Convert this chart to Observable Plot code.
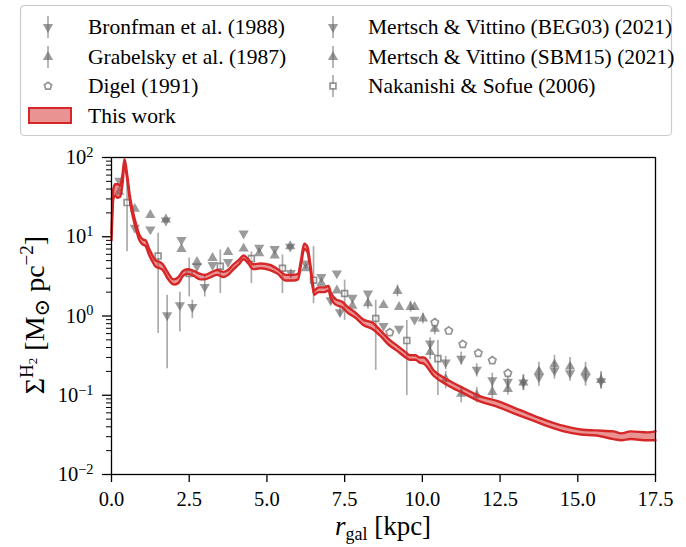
<!DOCTYPE html>
<html>
<head>
<meta charset="utf-8">
<script src="https://cdn.jsdelivr.net/npm/d3@7"></script>
<script src="https://cdn.jsdelivr.net/npm/@observablehq/plot@0.6"></script>
<style>
  body { margin: 0; background: #fff; }
  #wrap { position: relative; width: 686px; height: 547px; font-family: "Liberation Serif", "Times New Roman", "DejaVu Serif", serif; }
  #legend { position: absolute; left: 0; top: 0; }
  #chart { position: absolute; left: 0; top: 140px; }
</style>
</head>
<body>
<div id="wrap"><svg id="legend" width="686" height="140"></svg><div id="chart"></div></div>
<script>
const FONT = "'Liberation Serif', 'Times New Roman', 'DejaVu Serif', serif";

// ---- "This work": H2 surface density band (lower / upper edge) ----
const bandR  = [0.0, 0.03, 0.06, 0.12, 0.2, 0.28, 0.35, 0.42, 0.5, 0.6, 0.7, 0.8, 0.9, 1.0, 1.1, 1.2, 1.3, 1.42, 1.55, 1.65, 1.8, 2.0, 2.15, 2.3, 2.45, 2.65, 2.85, 3.0, 3.2, 3.4, 3.6, 3.75, 3.9, 4.1, 4.25, 4.4, 4.55, 4.8, 5.1, 5.35, 5.6, 5.85, 6.0, 6.1, 6.2, 6.3, 6.4, 6.52, 6.66, 6.85, 6.98, 7.05, 7.2, 7.43, 7.6, 7.85, 8.1, 8.4, 8.65, 8.9, 9.2, 9.46, 9.6, 9.78, 9.9, 10.05, 10.37, 10.8, 11.3, 11.87, 12.4, 12.94, 13.5, 14.0, 14.55, 15.1, 15.6, 16.15, 16.4, 16.7, 17.25, 17.5];
const bandLo = [9, 20, 30, 33, 31, 32, 45, 82, 55, 27, 17, 12, 9, 8, 7.6, 6, 5, 4.2, 4.0, 3.8, 3.0, 2.5, 2.6, 3.2, 3.4, 3.2, 2.9, 2.9, 3.1, 3.3, 3.1, 3.3, 3.8, 4.5, 5.2, 4.6, 3.9, 4.0, 3.8, 3.4, 2.8, 2.8, 2.9, 4.5, 7.0, 6.5, 3.8, 1.85, 2.0, 2.0, 2.1, 1.7, 1.4, 1.28, 1.1, 0.95, 0.77, 0.68, 0.56, 0.44, 0.36, 0.3, 0.28, 0.28, 0.26, 0.25, 0.175, 0.135, 0.107, 0.083, 0.072, 0.059, 0.049, 0.041, 0.035, 0.032, 0.031, 0.028, 0.027, 0.028, 0.027, 0.027];
const bandHi = [11, 28, 40, 46, 46, 44, 60, 95, 62, 31, 20, 14, 10.5, 9.3, 9, 7.2, 6, 5, 4.8, 4.5, 3.6, 2.9, 3.1, 3.7, 3.9, 3.7, 3.4, 3.3, 3.55, 3.8, 3.6, 3.8, 4.4, 5.1, 5.8, 5.2, 4.5, 4.6, 4.4, 3.9, 3.3, 3.3, 3.4, 5.2, 8.2, 7.5, 4.4, 2.1, 2.3, 2.3, 2.4, 2.0, 1.65, 1.5, 1.3, 1.1, 0.9, 0.82, 0.66, 0.52, 0.42, 0.35, 0.32, 0.32, 0.3, 0.3, 0.205, 0.158, 0.124, 0.097, 0.085, 0.07, 0.057, 0.048, 0.041, 0.037, 0.036, 0.035, 0.033, 0.035, 0.034, 0.035];

// ---- Bronfman et al. (1988) ----
const bronR  = [1.79, 2.2, 2.6, 3.0, 5.77, 7.05, 7.35];
const bronV  = [1.02, 1.37, 1.3, 2.33, 3.5, 1.58, 1.12];
const bronLo = [0.216, 0.63, 0.93, 1.74, 3.1, 1.4, 0.98];
const bronHi = [1.83, 2.0, 1.58, 3.27, 3.9, 1.78, 1.28];

// ---- Grabelsky et al. (1987) ----
const grabR  = [9.2, 9.62, 10.02, 10.4];
const grabV  = [2.07, 1.3, 0.93, 0.69];
const grabLo = [1.75, 1.12, 0.8, 0.58];
const grabHi = [2.45, 1.52, 1.08, 0.82];

// ---- Digel (1991) ----
const digelR = [8.95, 10.4, 10.85, 11.3, 11.8, 12.25, 12.75];
const digelV = [0.62, 0.83, 0.65, 0.44, 0.34, 0.275, 0.19];

// ---- Mertsch & Vittino (2021), shared radial grid ----
const mvR = [0.25, 0.75, 1.25, 1.75, 2.25, 2.75, 3.25, 3.75, 4.25, 4.75, 5.25, 5.75, 6.25, 6.75, 7.25, 7.75, 8.25, 8.75, 9.25, 9.75, 10.25, 10.75, 11.25, 11.75, 12.25, 12.75, 13.25, 13.75, 14.25, 14.75, 15.25, 15.75];
const begV  = [51, 13, 12.4, 16, 9.1, 4.25, 4.4, 4.8, 11, 7.3, 7.0, 7.5, 4.6, 3.1, 3.45, 1.7, 1.92, 0.75, 0.69, 0.9, 0.45, 0.26, 0.29, 0.21, 0.155, 0.148, 0.145, 0.17, 0.205, 0.19, 0.17, 0.15];
const begLo = [null, null, null, null, null, null, null, null, null, null, null, null, null, null, null, null, null, null, null, null, 0.38, 0.21, 0.24, 0.17, 0.125, 0.12, 0.115, 0.13, 0.16, 0.15, 0.13, 0.12];
const begHi = [null, null, null, null, null, null, null, null, null, null, null, null, null, null, null, null, null, null, null, null, 0.53, 0.31, 0.35, 0.25, 0.19, 0.18, 0.18, 0.22, 0.26, 0.25, 0.22, 0.19];
const sbmV  = [37, 22.5, 18.8, 16.5, 7.0, 4.8, 5.4, 6.4, 7.1, 6.2, 5.8, 7.6, 4.0, 2.6, 2.1, 1.35, 1.45, 1.37, 1.3, 1.3, 0.35, 0.16, 0.104, 0.1, 0.11, 0.12, 0.145, 0.2, 0.245, 0.23, 0.2, 0.155];
const sbmLo = [null, null, null, null, null, null, null, null, null, null, null, null, null, null, null, null, 1.22, null, null, null, 0.28, 0.12, 0.08, 0.08, 0.09, 0.1, 0.115, 0.155, 0.19, 0.18, 0.155, 0.12];
const sbmHi = [null, null, null, null, null, null, null, null, null, null, null, null, null, null, null, null, 1.7, null, null, null, 0.44, 0.2, 0.13, 0.125, 0.14, 0.15, 0.18, 0.26, 0.32, 0.3, 0.26, 0.2];

// ---- Nakanishi & Sofue (2006) ----
const nakR  = [0.5, 1.5, 2.5, 3.5, 4.5, 5.5, 6.5, 7.5, 8.5, 9.5, 10.5];
const nakV  = [27, 5.7, 3.45, 4.25, 5.3, 4.0, 2.83, 1.92, 0.93, 0.49, 0.29];
const nakLo = [6.45, 0.6, 1.74, 1.92, 2.57, 1.92, 1.43, 0.88, 0.206, 0.099, 0.099];
const nakHi = [49.9, 11.1, 5.4, 6.8, 6.45, 5.9, 7.5, 2.83, 1.58, 0.88, 0.49];

// ---- axes ----
const xTicks = [0, 2.5, 5, 7.5, 10, 12.5, 15, 17.5];
const yMajor = [0.01, 0.1, 1, 10, 100];
const yExp   = ["−2", "−1", "0", "1", "2"];
const yMinor = [0.02, 0.03, 0.04, 0.05, 0.06, 0.07, 0.08, 0.09, 0.2, 0.3, 0.4, 0.5, 0.6, 0.7, 0.8, 0.9, 2, 3, 4, 5, 6, 7, 8, 9, 20, 30, 40, 50, 60, 70, 80, 90];
const expOf = new Map(yMajor.map((d, i) => [d, yExp[i]]));

const RED = "#d62728";
const GREY = "#666666";

// marker shapes not built into d3
const S3 = Math.sqrt(3);
const triangleDown = { draw(c, size) {
  const y = -Math.sqrt(size / (S3 * 3));
  c.moveTo(0, -y * 2); c.lineTo(-S3 * y, y); c.lineTo(S3 * y, y); c.closePath();
}};
const pentagon = { draw(c, size) {
  const R = Math.sqrt(size / 2.378);
  for (let i = 0; i < 5; i++) {
    const a = -Math.PI / 2 + i * 2 * Math.PI / 5;
    const x = R * Math.cos(a), y = R * Math.sin(a);
    i ? c.lineTo(x, y) : c.moveTo(x, y);
  }
  c.closePath();
}};

const rows = (r, v, lo, hi) => r.map((d, i) => ({r: d, v: v[i], lo: lo ? lo[i] : null, hi: hi ? hi[i] : null}));
const band = rows(bandR, bandLo, bandLo, bandHi);
const bron = rows(bronR, bronV, bronLo, bronHi);
const grab = rows(grabR, grabV, grabLo, grabHi);
const digel = rows(digelR, digelV);
const beg = rows(mvR, begV, begLo, begHi);
const sbm = rows(mvR, sbmV, sbmLo, sbmHi);
const nak = rows(nakR, nakV, nakLo, nakHi);

const TRI_R = 3.8;
const errBar = (data) => Plot.ruleX(data.filter(d => d.lo != null), {x: "r", y1: "lo", y2: "hi", stroke: GREY, strokeOpacity: 0.55, strokeWidth: 1.7});
const tri = (data, symbol) => Plot.dot(data, {x: "r", y: "v", symbol, r: TRI_R, fill: GREY, fillOpacity: 0.65, stroke: "none"});

const chart = Plot.plot({
  width: 686,
  height: 407,
  marginTop: 17,
  marginBottom: 73,
  marginLeft: 111,
  marginRight: 31,
  style: {fontFamily: FONT, fontSize: "20px", color: "black", background: "white", overflow: "visible"},
  x: {domain: [0, 17.5]},
  y: {type: "log", domain: [0.01, 100]},
  marks: [
    Plot.axisX({ticks: xTicks, tickFormat: d => d.toFixed(1), tickSize: 8, tickPadding: 9, label: null, strokeWidth: 1.3, fontSize: 20.5}),
    Plot.axisY({ticks: yMajor, tickFormat: d => expOf.get(d), tickSize: 9, tickPadding: 9, label: null, strokeWidth: 1.3, fontSize: 20.5}),
    Plot.axisY({ticks: yMinor, tickFormat: () => "", tickSize: 5, label: null, strokeWidth: 1}),
    errBar(bron), errBar(grab), errBar(beg), errBar(sbm), errBar(nak),
    tri(bron, triangleDown),
    tri(grab, "triangle"),
    tri(beg, triangleDown),
    tri(sbm, "triangle"),
    Plot.dot(digel, {x: "r", y: "v", symbol: pentagon, r: 3.4, fill: "white", stroke: GREY, strokeOpacity: 0.7, strokeWidth: 1.7}),
    Plot.dot(nak, {x: "r", y: "v", symbol: "square", r: 3.3, fill: "white", fillOpacity: 0.4, stroke: GREY, strokeOpacity: 0.7, strokeWidth: 1.7}),
    Plot.areaY(band, {x: "r", y1: "lo", y2: "hi", fill: RED, fillOpacity: 0.5, curve: "monotone-x"}),
    Plot.line(band, {x: "r", y: "lo", stroke: RED, strokeWidth: 2.4, curve: "monotone-x"}),
    Plot.line(band, {x: "r", y: "hi", stroke: RED, strokeWidth: 2.4, curve: "monotone-x"}),
    Plot.frame({stroke: "black", strokeWidth: 1.3})
  ]
});
document.getElementById("chart").appendChild(chart);

const svg = d3.select(chart);
// y tick labels as powers of ten
svg.selectAll('g[aria-label="y-axis tick label"] text').each(function () {
  const e = this.textContent;
  if (!e) return;
  const t = d3.select(this);
  t.text(null);
  t.append("tspan").text("10");
  t.append("tspan").attr("dy", "-0.5em").attr("font-size", "0.7em").text(e);
});

// axis titles
const yl = svg.append("text")
  .attr("transform", "translate(44,175) rotate(-90)")
  .attr("text-anchor", "middle").attr("font-size", 28).attr("font-family", FONT).attr("fill", "black");
yl.append("tspan").text("Σ");
yl.append("tspan").attr("dy", -11).attr("font-size", 19).text("H");
yl.append("tspan").attr("dy", 4).attr("font-size", 13).text("2");
yl.append("tspan").attr("dy", 7).text(" [M");
yl.append("tspan").attr("dy", 5).attr("font-size", 21).text("⊙");
yl.append("tspan").attr("dy", -5).text(" pc");
yl.append("tspan").attr("dy", -11).attr("font-size", 19).text("−2");
yl.append("tspan").attr("dy", 11).text("]");

const xl = svg.append("text")
  .attr("x", 383).attr("y", 395)
  .attr("text-anchor", "middle").attr("font-size", 27).attr("font-family", FONT).attr("fill", "black");
xl.append("tspan").attr("font-style", "italic").text("r");
xl.append("tspan").attr("dy", 5).attr("font-size", 18).text("gal");
xl.append("tspan").attr("dy", -5).text(" [kpc]");

// legend
const lg = d3.select("#legend");
lg.append("rect").attr("x", 20.5).attr("y", 5.5).attr("width", 651).attr("height", 130).attr("rx", 4)
  .attr("fill", "white").attr("stroke", "#cccccc").attr("stroke-width", 1.2);
const entries = [
  {label: "Bronfman et al. (1988)", col: 0, row: 0, sym: triangleDown, kind: "tri"},
  {label: "Grabelsky et al. (1987)", col: 0, row: 1, sym: d3.symbolTriangle, kind: "tri"},
  {label: "Digel (1991)", col: 0, row: 2, sym: pentagon, kind: "open"},
  {label: "This work", col: 0, row: 3, kind: "band"},
  {label: "Mertsch & Vittino (BEG03) (2021)", col: 1, row: 0, sym: triangleDown, kind: "tri"},
  {label: "Mertsch & Vittino (SBM15) (2021)", col: 1, row: 1, sym: d3.symbolTriangle, kind: "tri"},
  {label: "Nakanishi & Sofue (2006)", col: 1, row: 2, sym: d3.symbolSquare, kind: "openbar"}
];
const rowY = [27, 57, 86, 116];
const colX = [48, 333];
const textX = [88, 368];
for (const e of entries) {
  const cx = colX[e.col], cy = rowY[e.row];
  if (e.kind === "band") {
    lg.append("rect").attr("x", 29).attr("y", cy - 8).attr("width", 42).attr("height", 15)
      .attr("fill", RED).attr("fill-opacity", 0.5).attr("stroke", RED).attr("stroke-width", 2);
  } else {
    if (e.kind !== "open") {
      lg.append("line").attr("x1", cx).attr("x2", cx).attr("y1", cy - 11).attr("y2", cy + 11)
        .attr("stroke", GREY).attr("stroke-opacity", 0.55).attr("stroke-width", 1.7);
    }
    const p = d3.symbol(e.sym, Math.PI * (e.kind === "tri" ? TRI_R * TRI_R : 3.3 * 3.3))();
    const g = lg.append("path").attr("d", p).attr("transform", `translate(${cx},${cy})`);
    if (e.kind === "tri") g.attr("fill", GREY).attr("fill-opacity", 0.65);
    else g.attr("fill", "white").attr("stroke", GREY).attr("stroke-opacity", 0.7).attr("stroke-width", 1.7);
  }
  lg.append("text").attr("x", textX[e.col]).attr("y", cy + 7).attr("font-size", 21.5)
    .attr("font-family", FONT).attr("fill", "black").text(e.label);
}
</script>
</body>
</html>
